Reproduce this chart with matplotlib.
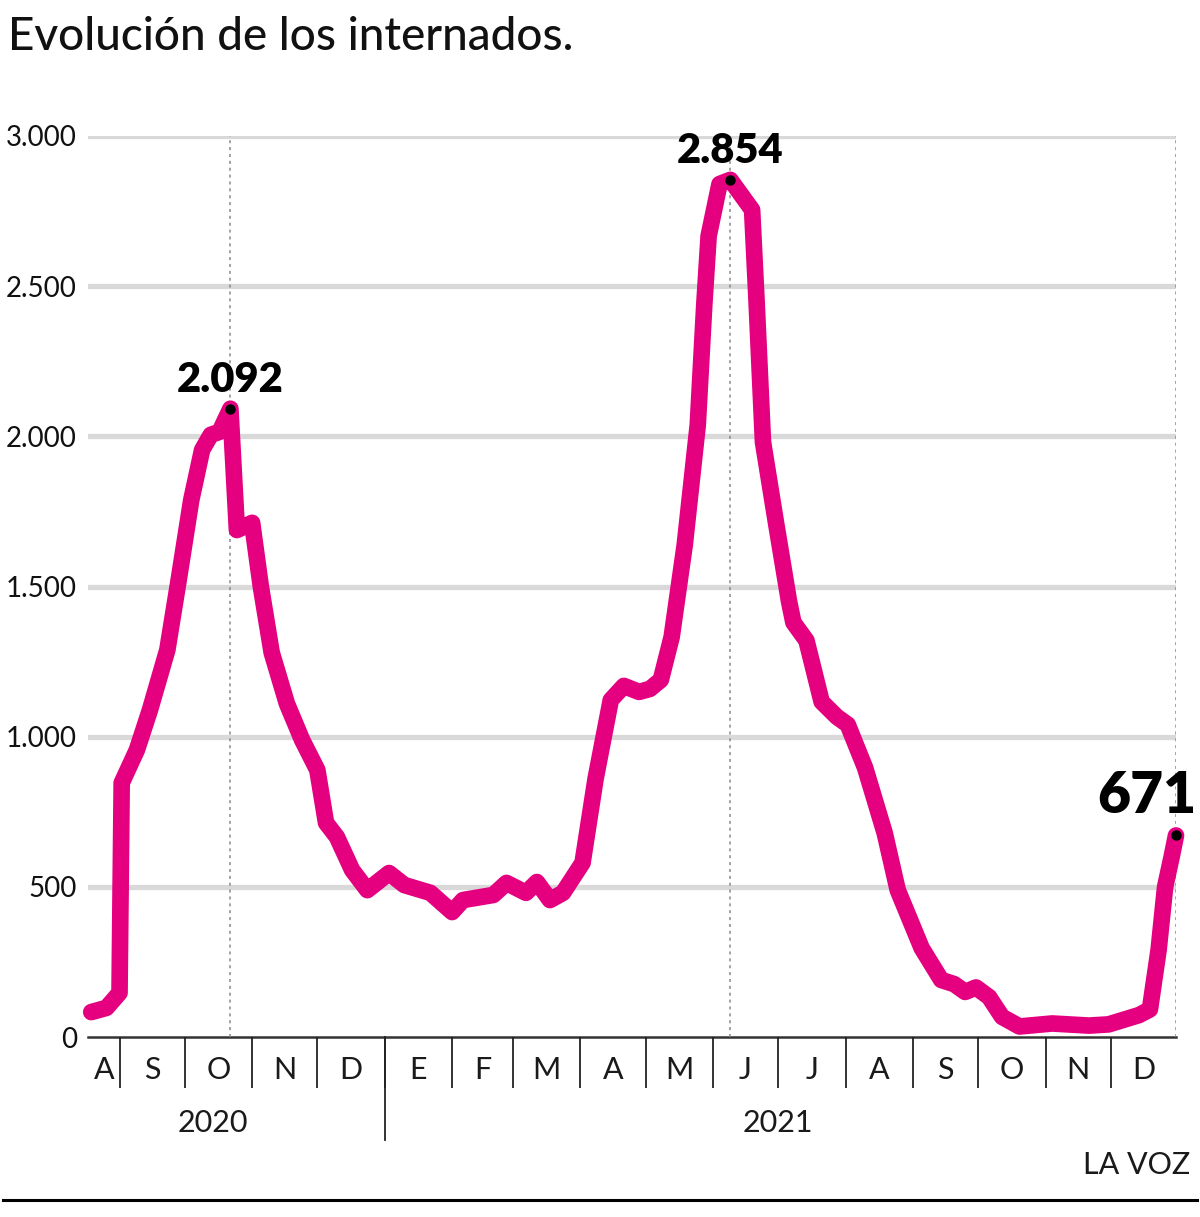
import matplotlib
matplotlib.use("Agg")
from matplotlib import pyplot as plt
import matplotlib.transforms as mtransforms
import pandas as pd

plt.rcParams['font.family'] = ['Lato', 'DejaVu Sans']

# internados, datos
dates = [
    "2020-08-19", "2020-08-26", "2020-09-01", "2020-09-02", "2020-09-09", "2020-09-15",
    "2020-09-23", "2020-09-28", "2020-10-04", "2020-10-09", "2020-10-13", "2020-10-17",
    "2020-10-22", "2020-10-25", "2020-11-01", "2020-11-05", "2020-11-10", "2020-11-17",
    "2020-11-24", "2020-12-01", "2020-12-05", "2020-12-10", "2020-12-17", "2020-12-24",
    "2021-01-03", "2021-01-10", "2021-01-22", "2021-02-01", "2021-02-06", "2021-02-20",
    "2021-02-26", "2021-03-07", "2021-03-12", "2021-03-18", "2021-03-24", "2021-04-02",
    "2021-04-08", "2021-04-15", "2021-04-21", "2021-04-28", "2021-05-03", "2021-05-08",
    "2021-05-13", "2021-05-19", "2021-05-25", "2021-05-28", "2021-05-30", "2021-06-04",
    "2021-06-09", "2021-06-19", "2021-06-21", "2021-06-24", "2021-06-30", "2021-07-06",
    "2021-07-08", "2021-07-14", "2021-07-21", "2021-07-28", "2021-08-02", "2021-08-10",
    "2021-08-19", "2021-08-25", "2021-09-05", "2021-09-14", "2021-09-20", "2021-09-25",
    "2021-09-30", "2021-10-06", "2021-10-12", "2021-10-20", "2021-11-04", "2021-11-21",
    "2021-11-30", "2021-12-14", "2021-12-19", "2021-12-23", "2021-12-26", "2021-12-29",
    "2021-12-31",
]
internados = [
    83, 97, 147, 846, 956, 1089, 1289, 1512, 1788, 1955, 2005, 2015,
    2092, 1688, 1712, 1500, 1280, 1110, 989, 889, 713, 666, 556, 489,
    546, 506, 480, 416, 456, 473, 513, 480, 516, 456, 480, 580,
    860, 1122, 1169, 1149, 1159, 1189, 1332, 1638, 2038, 2438, 2667, 2840,
    2854, 2754, 2458, 1981, 1712, 1450, 1380, 1320, 1116, 1066, 1040, 896,
    679, 489, 296, 190, 176, 150, 165, 133, 67, 35, 45, 38,
    42, 73, 92, 290, 500, 600, 671,
]

highlight_dates = ["2020-10-22", "2021-06-09", "2021-12-31"]
highlight_values = [2092, 2854, 671]
highlight_labels = ["2.092", "2.854", "671"]

month_letters = ["A", "S", "O", "N", "D", "E", "F", "M", "A", "M", "J", "J", "A", "S", "O", "N", "D"]
years = ["2020", "2021"]
year_pos = ["2020-10-14", "2021-07-01"]

y_ticks = [0, 500, 1000, 1500, 2000, 2500, 3000]
y_labels = ["0", "500", "1.000", "1.500", "2.000", "2.500", "3.000"]

pink = '#e4007f'

x = pd.to_datetime(dates)
x_start = pd.Timestamp("2020-08-17 12:00")
x_end = pd.Timestamp("2021-12-31")

fig = plt.figure(figsize=(12, 12.17), dpi=100)
ax = fig.add_axes([88 / 1200, 180 / 1217, 1088 / 1200, 901 / 1217])

ax.set_xlim(x_start, x_end)
ax.set_ylim(0, 3000)

# grid
for v in y_ticks[1:]:
    ax.axhline(v, color='#d9d9d9', lw=3.8, zorder=0)
ax.axhline(0, color='#333333', lw=1.8, zorder=1, clip_on=False)

# dotted reference lines
for d in highlight_dates:
    ax.axvline(pd.Timestamp(d), color='#8a8a8a', lw=1.1, ls=(0, (2, 2.5)), zorder=1)

ax.plot(x, internados, color=pink, lw=12, solid_joinstyle='round',
        solid_capstyle='round', zorder=3, clip_on=False)

for d, v, lab in zip(highlight_dates, highlight_values, highlight_labels):
    ax.plot(pd.Timestamp(d), v, 'o', color='black', ms=6.5, zorder=4, clip_on=False)
    if lab == "671":
        ax.annotate(lab, (pd.Timestamp(d), v), xytext=(15, 16), textcoords='offset points',
                    ha='right', va='baseline', fontsize=41, fontweight='heavy',
                    annotation_clip=False)
    else:
        ax.annotate(lab, (pd.Timestamp(d), v), xytext=(0, 12), textcoords='offset points',
                    ha='center', va='baseline', fontsize=30, fontweight='heavy',
                    annotation_clip=False)

# axes
for s in ax.spines.values():
    s.set_visible(False)
ax.set_yticks(y_ticks)
ax.set_yticklabels(y_labels)
ax.tick_params(axis='y', length=0, pad=8, labelsize=20, labelcolor='#111111')

month_starts = pd.date_range("2020-09-01", "2021-12-01", freq="MS")
ax.set_xticks(month_starts)
ax.set_xticklabels([])
ax.tick_params(axis='x', which='major', length=37, width=1.3, color='#222222', direction='out')

edges = [x_start] + list(month_starts) + [x_end]
mids = [a + (b - a) / 2 for a, b in zip(edges[:-1], edges[1:])]
ax.set_xticks(mids, minor=True)
ax.set_xticklabels(month_letters, minor=True)
ax.tick_params(axis='x', which='minor', length=0, pad=14, labelsize=22, colors='#1a1a1a')

trans = mtransforms.blended_transform_factory(ax.transData, ax.transAxes)
ax.plot([pd.Timestamp("2021-01-01")] * 2, [0, -0.114], color='#222222', lw=1.3,
        transform=trans, clip_on=False)
for yr, p in zip(years, year_pos):
    ax.text(pd.Timestamp(p), -0.095, yr, transform=trans, ha='center', va='center',
            fontsize=22, color='#1a1a1a')

fig.text(8 / 1200, 1 - 37 / 1217, "Evolución de los internados.", ha='left', va='center',
         fontsize=33, fontweight='medium', color='#111111')
fig.text(1190 / 1200, 1 - 1165 / 1217, "LA VOZ", ha='right', va='center', fontsize=22,
         color='#1a1a1a')
fig.add_artist(plt.Line2D([3 / 1200, 1197 / 1200], [1 - 1200 / 1217] * 2, color='black', lw=2.2))

fig.savefig("out.png", dpi=100)
